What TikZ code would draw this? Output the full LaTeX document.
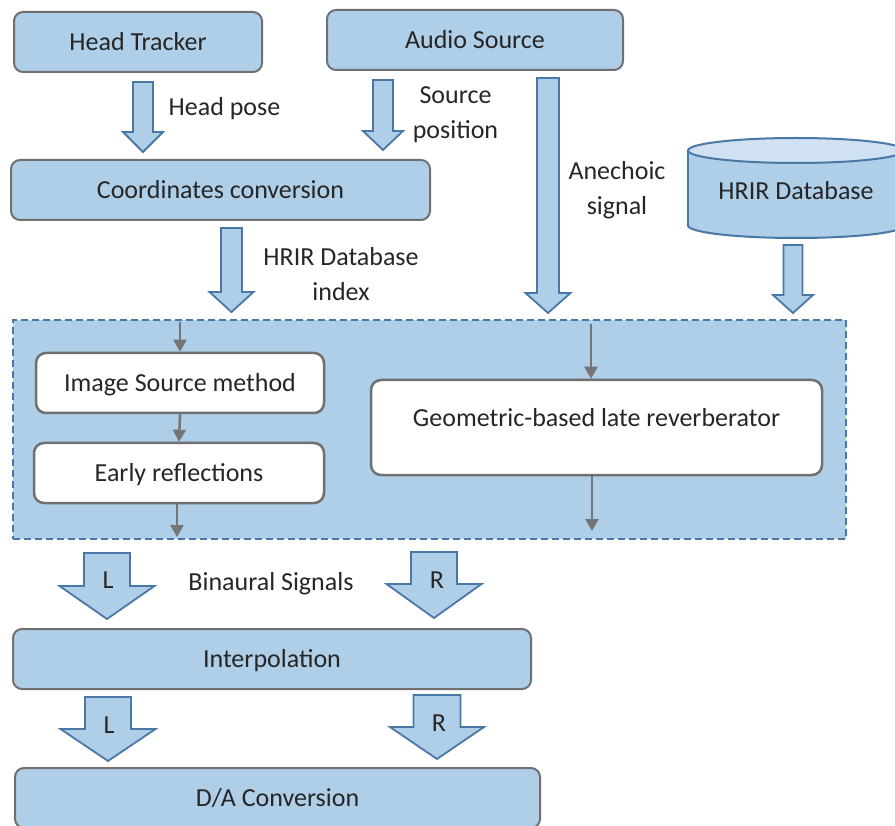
\documentclass[tikz,border=0pt]{standalone}
\usepackage{fontspec}
\setmainfont{Carlito}
\usetikzlibrary{arrows.meta,calc}
\definecolor{boxfill}{HTML}{AFCEE7}
\definecolor{boxline}{HTML}{707070}
\definecolor{arrline}{HTML}{4A78A6}
\definecolor{txt}{HTML}{262626}
\definecolor{cyltop}{HTML}{CFE1F2}
\definecolor{inarrow}{HTML}{757575}
\newcommand{\blockarr}[5]{%
  \draw[blockarrow] ($(#1)+(-#3,0)$) -- ($(#1)+(#3,0)$) -- ($(#2)+(#3,-#5)$) -- ($(#2)+(#4,-#5)$) -- (#2) -- ($(#2)+(-#4,-#5)$) -- ($(#2)+(-#3,-#5)$) -- cycle;}
\tikzset{
  every node/.style={font=\fontsize{26}{35}\selectfont, text=txt, text height=16.4pt, text depth=0pt, inner sep=0pt},
  bluebox/.style={draw=boxline, fill=boxfill, line width=2pt, rounded corners=9pt},
  whitebox/.style={draw=boxline, fill=white, line width=2.5pt, rounded corners=10pt},
  region/.style={draw=arrline, fill=boxfill, line width=2pt, dash pattern=on 7pt off 4pt},
  blockarrow/.style={draw=arrline, fill=boxfill, line width=1.8pt, line join=miter},
  cylline/.style={draw=arrline, line width=2pt},
  flow/.style={draw=inarrow, line width=2.5pt, -{Triangle[width=13pt,length=12pt]}},
}
\begin{document}
\begin{tikzpicture}[x=1pt,y=-1pt]
\useasboundingbox (0,0) rectangle (895,826);
% top boxes
\node[bluebox, minimum width=248, minimum height=60] (ht) at (138,42) {Head Tracker};
\node[bluebox, minimum width=296, minimum height=60] (as) at (475,40) {Audio Source};
\node[bluebox, minimum width=419, minimum height=60] (cc) at (220.5,190) {Coordinates conversion};
% cylinder
\fill[boxfill] (688,150.5) rectangle (904,225.5);
\fill[boxfill] (796,225.5) ellipse [x radius=108, y radius=12.5];
\begin{scope}
  \clip (680,225.5) rectangle (910,250);
  \draw[cylline] (796,225.5) ellipse [x radius=108, y radius=12.5];
\end{scope}
\draw[cylline] (688,150.5) -- (688,225.5) (904,150.5) -- (904,225.5);
\draw[cylline, fill=cyltop] (796,150.5) ellipse [x radius=108, y radius=12.5];
\node (db) at (796,191) {HRIR Database};
% labels
\node (lhp) at (224.5,107.5) {Head pose};
\node (lsp1) at (455.5,95.5) {Source};
\node (lsp2) at (455.5,130) {position};
\node (lan1) at (617,171.5) {Anechoic};
\node (lan2) at (617,206.5) {signal};
\node (lix1) at (341,257) {HRIR Database};
\node (lix2) at (341,292) {index};
% block arrows upper
\coordinate (hp-a) at (143,82);  \coordinate (hp-b) at (143,152);
\coordinate (sp-a) at (383,80);  \coordinate (sp-b) at (383,150);
\coordinate (ix-a) at (231.5,228); \coordinate (ix-b) at (231.5,312);
\coordinate (an-a) at (548,78);  \coordinate (an-b) at (548,313);
\coordinate (db-a) at (793,245); \coordinate (db-b) at (793,313);
\blockarr{hp-a}{hp-b}{10}{20}{20}
\blockarr{sp-a}{sp-b}{10}{20}{19}
\blockarr{ix-a}{ix-b}{10.5}{22}{20}
\blockarr{an-a}{an-b}{11}{22.5}{20}
\blockarr{db-a}{db-b}{9.5}{20}{18}
% processing region
\node[region, minimum width=833, minimum height=219] (reg) at (429.5,429.5) {};
\node[whitebox, minimum width=288, minimum height=60] (ism) at (180,383) {Image Source method};
\node[whitebox, minimum width=290, minimum height=60] (er) at (179,473) {Early reflections};
\node[whitebox, minimum width=451, minimum height=95, text depth=19pt] (geo) at (596.5,427.5) {Geometric-based late reverberator};
\coordinate (in1) at (180,322);
\coordinate (out1) at (177,537);
\coordinate (in2) at (591,324);
\coordinate (out2) at (592,531);
\draw[flow] (in1) -- (in1 |- ism.north);
\draw[flow] (ism.south) -- (er.north);
\draw[flow] (out1 |- er.south) -- (out1);
\draw[flow] (in2) -- (in2 |- geo.north);
\draw[flow] (out2 |- geo.south) -- (out2);
% binaural arrows
\coordinate (l1-a) at (107,553); \coordinate (l1-b) at (107,619);
\coordinate (r1-a) at (434,552); \coordinate (r1-b) at (434,618);
\coordinate (l2-a) at (108,697); \coordinate (l2-b) at (108,761);
\coordinate (r2-a) at (437,695); \coordinate (r2-b) at (437,759);
\blockarr{l1-a}{l1-b}{23}{47.5}{33}
\blockarr{r1-a}{r1-b}{23}{47.5}{34}
\blockarr{l2-a}{l2-b}{23}{47.5}{32}
\blockarr{r2-a}{r2-b}{23.5}{47}{32}
\node (tl1) at (108,580.5) {L};
\node (tr1) at (437,580) {R};
\node (tl2) at (109,725) {L};
\node (tr2) at (439,723.5) {R};
\node (lbin) at (271,582.5) {Binaural Signals};
\node[bluebox, minimum width=518, minimum height=60] (ip) at (272,659) {Interpolation};
\node[bluebox, minimum width=525, minimum height=60] (da) at (277.5,798) {D/A Conversion};
\end{tikzpicture}
\end{document}
